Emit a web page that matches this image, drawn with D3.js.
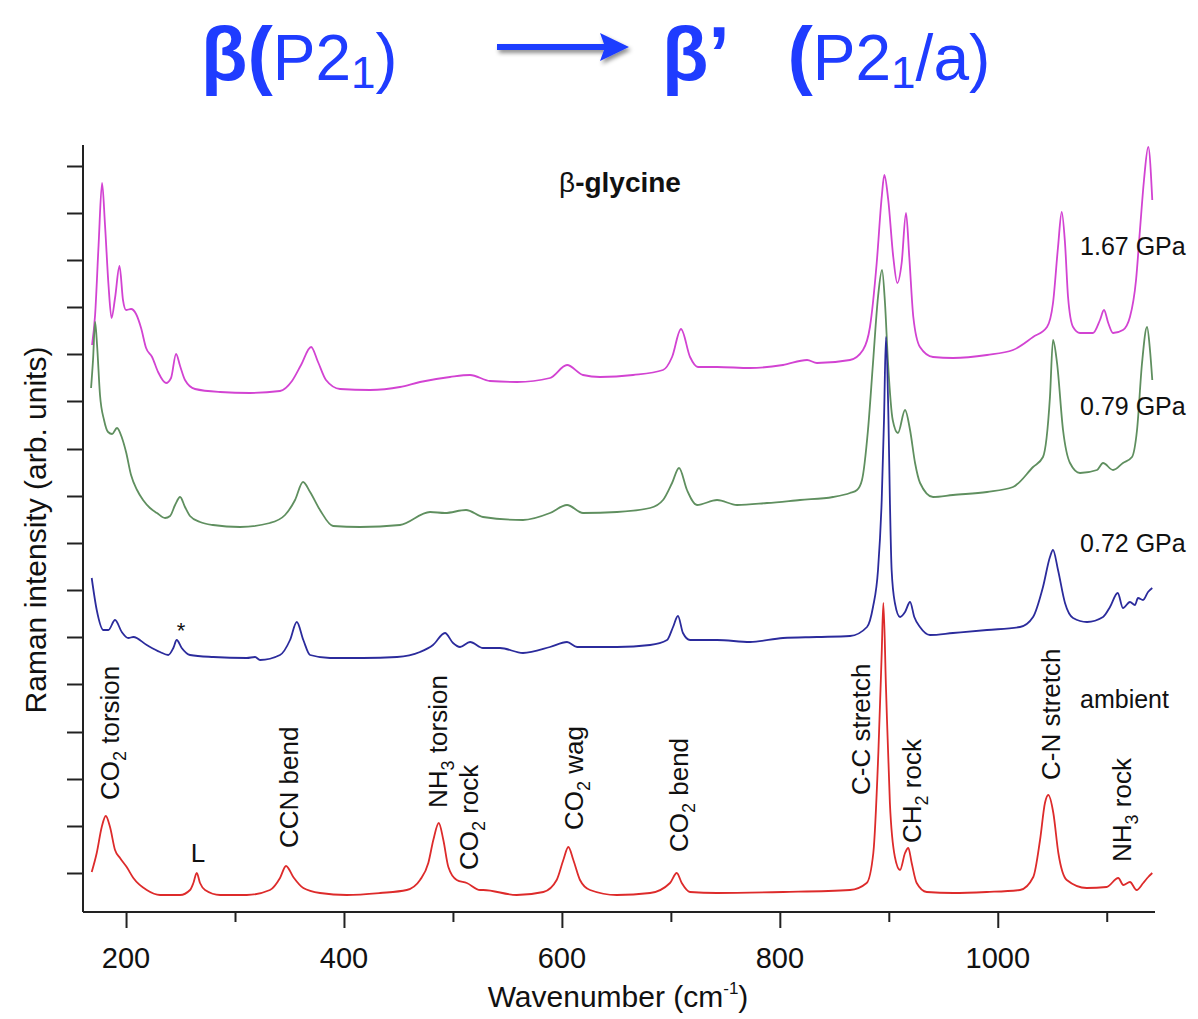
<!DOCTYPE html>
<html>
<head>
<meta charset="utf-8">
<script src="https://cdn.jsdelivr.net/npm/d3@7/dist/d3.min.js"></script>
<style>
  html, body { margin: 0; padding: 0; background: #fff; }
  svg { display: block; }
  text { font-family: "Liberation Sans", Arial, Helvetica, sans-serif; }
</style>
</head>
<body>
<svg id="chart" width="1198" height="1019"></svg>
<script>
// ---------------- DATA (wavenumber cm-1, intensity arb. units) ----------------
const spec167GPa = [
  [168.8,567],[171.6,597],[174.8,667],[178.0,729],[180.7,687],[183.9,627],[186.7,594],[189.9,614],
  [194.0,646],[197.2,612],[200.0,602],[204.6,603],[209.2,598],[213.8,584],[218.4,564],[223.9,555],
  [229.4,540],[236.7,529],[241.3,534],[245.9,558],[249.6,546],[254.1,532],[263.3,523],[286.3,520],
  [313.8,519],[341.3,521],[352.3,531],[360.6,547],[369.8,565],[376.2,550],[383.5,532],[396.4,523],
  [423.9,522],[451.4,525],[469.8,530],[497.3,535],[515.7,537],[534.0,531],[558.8,530],[589.1,534],
  [604.7,547],[619.4,537],[635.0,535],[665.3,537],[692.8,542],[701.1,555],[709.3,583],[717.6,555],
  [724.9,545],[742.4,545],[772.7,544],[802.9,547],[825.0,552],[834.1,549],[864.4,552],[876.3,562],
  [882.7,585],[888.9,649],[893.5,715],[895.9,737],[899.5,712],[904.1,655],[907.8,629],[911.8,649],
  [915.8,699],[918.8,655],[922.5,595],[928.6,565],[940.6,555],[958.9,554],[990.1,557],[1014.0,562],
  [1032.4,575],[1045.2,585],[1050.7,609],[1055.3,665],[1058.7,700],[1061.7,669],[1064.5,615],
  [1069.1,585],[1075.5,579],[1087.4,579],[1093.8,592],[1097.5,602],[1101.4,589],[1105.8,579],
  [1114.9,582],[1121.3,595],[1126.9,632],[1130.5,682],[1134.2,732],[1138.1,765],[1141.8,712]
];
const spec079GPa = [
  [167.9,524],[169.7,552],[171.6,590],[173.4,567],[176.1,517],[179.8,492],[183.5,480],[187.2,478],
  [191.7,484],[196.3,474],[200.0,460],[204.6,437],[210.1,422],[215.6,412],[222.0,404],[228.4,399],
  [235.8,394],[240.4,396],[245.0,407],[249.6,415],[254.1,405],[258.7,396],[267.9,390],[279.8,387],
  [304.6,385],[332.1,389],[345.9,397],[355.1,412],[362.4,430],[368.9,420],[378.0,402],[390.0,386],
  [414.7,385],[451.4,387],[479.0,400],[492.7,399],[512.0,402],[527.6,395],[564.3,392],[589.1,399],
  [604.7,407],[619.4,399],[650.6,400],[680.9,404],[692.8,412],[701.1,429],[707.5,444],[714.8,422],
  [724.0,407],[742.4,412],[760.7,407],[788.2,409],[818.5,412],[848.8,415],[864.4,419],[870.8,422],
  [875.4,432],[880.9,482],[885.5,549],[890.1,615],[893.8,642],[896.5,609],[899.3,549],[903.6,492],
  [908.4,479],[914.9,502],[919.5,482],[924.1,449],[928.7,429],[940.6,415],[958.9,417],[990.1,420],
  [1014.0,425],[1032.4,445],[1041.5,455],[1047.9,515],[1050.7,572],[1054.4,549],[1059.9,482],
  [1066.3,449],[1075.5,439],[1091.1,442],[1096.6,449],[1105.8,442],[1114.9,449],[1123.2,455],
  [1127.8,482],[1132.4,549],[1137.0,585],[1139.7,562],[1141.8,532]
];
const spec072GPa = [
  [168.5,334],[173.1,302],[179.2,282],[183.8,282],[189.9,292],[196.1,280],[202.1,274],[206.7,275],
  [219.0,267],[231.2,260],[238.8,257],[243.4,264],[246.5,272],[251.1,264],[258.7,257],[280.1,255],
  [310.8,254],[318.4,255],[323.0,252],[341.3,257],[350.5,272],[356.7,290],[362.7,272],[368.9,257],
  [387.2,254],[417.5,254],[448.7,255],[469.8,260],[481.7,267],[492.7,279],[500.1,269],[506.5,265],
  [515.7,270],[527.6,264],[543.2,264],[564.3,259],[589.1,265],[604.7,270],[613.9,265],[650.6,265],
  [680.9,267],[696.5,272],[702.0,285],[706.5,296],[711.1,279],[717.6,272],[742.4,272],[772.7,270],
  [802.9,274],[834.1,275],[864.4,276],[880.0,285],[885.5,305],[890.1,342],[893.5,412],[895.6,492],
  [897.4,575],[899.7,492],[901.0,412],[902.6,342],[905.6,309],[910.3,295],[914.9,300],[919.5,310],
  [923.4,295],[928.6,285],[937.8,277],[958.9,279],[990.1,282],[1020.4,285],[1032.4,295],[1041.5,325],
  [1047.9,355],[1050.7,362],[1055.3,342],[1061.7,309],[1069.1,294],[1081.9,290],[1096.6,295],
  [1103.0,305],[1110.1,319],[1114.9,304],[1121.3,310],[1125.9,307],[1128.7,314],[1133.3,312],
  [1137.9,320],[1141.8,324]
];
const specAmbient = [
  [168.5,40],[173.1,59],[177.7,85],[181.4,96],[185.3,85],[189.9,62],[194.5,54],[200.6,45],[206.7,34],
  [219.0,22],[231.2,17],[249.6,17],[258.7,22],[261.8,29],[264.9,39],[267.9,29],[272.5,22],[286.3,17],
  [310.8,17],[332.1,22],[341.3,34],[346.8,46],[353.5,35],[362.7,24],[378.0,19],[402.5,17],[433.1,19],
  [457.6,22],[469.8,32],[477.4,49],[482.0,72],[487.0,89],[491.2,72],[495.8,45],[503.5,32],[512.7,29],
  [524.9,22],[527.9,22],[558.5,17],[583.0,20],[595.2,32],[601.3,52],[605.9,65],[610.5,52],[616.6,32],
  [625.8,22],[650.3,17],[680.9,19],[699.2,29],[705.4,39],[710.0,29],[717.6,20],[742.1,19],[803.2,20],
  [864.4,22],[879.7,29],[885.8,59],[890.4,159],[893.5,259],[895.0,309],[897.4,225],[901.0,109],
  [905.6,55],[910.3,42],[914.9,59],[917.9,64],[921.0,49],[925.6,29],[934.8,20],[959.2,19],[989.8,20],
  [1020.4,22],[1032.6,35],[1038.8,72],[1043.3,109],[1046.4,117],[1051.0,99],[1055.6,59],[1063.3,32],
  [1081.6,24],[1099.9,25],[1110.6,34],[1115.2,27],[1121.3,30],[1127.4,22],[1133.5,29],[1138.1,35],
  [1141.8,39]
];
const seriesNames = ["1.67 GPa", "0.79 GPa", "0.72 GPa", "ambient"];
const seriesLabelY = [657, 497, 360, 204];     // intensity level of each series label
const xTickValues = [200, 300, 400, 500, 600, 700, 800, 900, 1000, 1100];
const xTickLabels = ["200", "400", "600", "800", "1000"];
const yTickValues = [39, 86, 133, 180, 228, 275, 322, 369, 416, 463, 511, 558, 605, 652, 699, 746];
// peak assignment labels: [main, subscript, rest, wavenumber, intensity]
const peakLabels = [
  ["CO", "2", " torsion", 193.6, 112],
  ["CCN bend", "", "", 357.8, 64],
  ["NH", "3", " torsion", 494.6, 104],
  ["CO", "2", " rock", 523.0, 42],
  ["CO", "2", " wag", 619.4, 82],
  ["CO", "2", " bend", 715.7, 60],
  ["C-C stretch", "", "", 882.7, 117],
  ["CH", "2", " rock", 929.6, 69],
  ["C-N stretch", "", "", 1057.1, 132],
  ["NH", "3", " rock", 1122.3, 50]
];

// ---------------- DRAWING ----------------
const svg = d3.select("#chart");
const colors = ["#d243d2", "#5f8f5f", "#2b2b9c", "#dd2b2b"];
const spectra = [spec167GPa, spec079GPa, spec072GPa, specAmbient];

const x = d3.scaleLinear().domain([160.5, 1144.3]).range([83, 1155]);
const y = d3.scaleLinear().domain([0, 767]).range([912, 145]);

// Title
const title = svg.append("g").attr("fill", "#1f3cff").style("font-family", "Lato, 'Open Sans', sans-serif");
const t1 = title.append("text").attr("x", 201).attr("y", 80);
t1.append("tspan").attr("font-size", 76).attr("font-weight", 700).text("β(");
t1.append("tspan").attr("font-size", 64).text("P2");
t1.append("tspan").attr("font-size", 44).attr("dy", 8).text("1");
t1.append("tspan").attr("font-size", 66).attr("dy", -8).text(")");
const t2 = title.append("text").attr("x", 662).attr("y", 80);
t2.append("tspan").attr("font-size", 76).attr("font-weight", 700).text("β’");
t2.append("tspan").attr("font-size", 76).attr("font-weight", 700).attr("dx", 58).text("(");
t2.append("tspan").attr("font-size", 64).text("P2");
t2.append("tspan").attr("font-size", 44).attr("dy", 8).text("1");
t2.append("tspan").attr("font-size", 64).attr("dy", -8).text("/a)");
const defs = svg.append("defs");
const f = defs.append("filter").attr("id", "sh").attr("x", "-10%").attr("y", "-50%").attr("width", "130%").attr("height", "200%");
f.append("feDropShadow").attr("dx", 2).attr("dy", 3).attr("stdDeviation", 2).attr("flood-color", "#000").attr("flood-opacity", 0.45);
title.append("path").attr("filter", "url(#sh)")
  .attr("d", "M497,44 L604,44 L600,33 L629,47 L600,61 L604,50 L497,50 Z");

// Axes
const xAxis = d3.axisBottom(x).tickValues(xTickValues)
  .tickSize(0).tickFormat(() => "");
const gx = svg.append("g").attr("transform", "translate(0,912)").call(xAxis);
gx.select(".domain").attr("stroke", "#222").attr("stroke-width", 2).attr("d", "M83,0H1155");
gx.selectAll(".tick line").attr("stroke", "#222").attr("stroke-width", 2)
  .attr("y2", d => (d % 200 === 0 ? 16 : 10));
svg.append("g").selectAll("text").data(xTickLabels).join("text")
  .attr("x", d => x(+d)).attr("y", 968).attr("text-anchor", "middle")
  .attr("font-size", 29).attr("fill", "#111").text(d => d);

const yAxis = d3.axisLeft(y).tickValues(yTickValues).tickSize(16).tickFormat(() => "");
const gy = svg.append("g").attr("transform", "translate(83,0)").call(yAxis);
gy.select(".domain").attr("stroke", "#222").attr("stroke-width", 2).attr("d", "M0,145V912");
gy.selectAll(".tick line").attr("stroke", "#222").attr("stroke-width", 2);

// Axis titles
const xt = svg.append("text").attr("x", 618).attr("y", 1007).attr("text-anchor", "middle")
  .attr("font-size", 30).attr("fill", "#111");
xt.append("tspan").text("Wavenumber (cm");
xt.append("tspan").attr("font-size", 17).attr("dy", -13).text("-1");
xt.append("tspan").attr("dy", 13).text(")");
svg.append("text").attr("transform", "translate(46,530) rotate(-90)").attr("text-anchor", "middle")
  .attr("font-size", 30).attr("fill", "#111").text("Raman intensity (arb. units)");

// Spectra
const line = d3.line().x(d => x(d[0])).y(d => y(d[1])).curve(d3.curveMonotoneX);
svg.append("g").selectAll("path").data(spectra).join("path")
  .attr("d", line).attr("fill", "none")
  .attr("stroke", (d, i) => colors[i]).attr("stroke-width", 1.8).attr("stroke-linejoin", "round");

// Series labels
svg.append("g").selectAll("text").data(seriesNames).join("text")
  .attr("x", x(1075.5)).attr("y", (d, i) => y(seriesLabelY[i]))
  .attr("font-size", 25).attr("fill", "#111").text(d => d);

// Compound name
const gl = svg.append("text").attr("x", x(653.3)).attr("y", y(720)).attr("text-anchor", "middle")
  .attr("font-size", 28).attr("fill", "#111");
gl.append("tspan").text("β");
gl.append("tspan").attr("font-weight", 700).text("-glycine");

// Peak labels
const pl = svg.append("g").selectAll("text").data(peakLabels).join("text")
  .attr("transform", d => `translate(${x(d[3])},${y(d[4])}) rotate(-90)`)
  .attr("font-size", 26).attr("fill", "#111");
pl.append("tspan").text(d => d[0]);
pl.append("tspan").attr("font-size", 18).attr("dy", d => d[1] ? 7 : 0).text(d => d[1]);
pl.append("tspan").attr("dy", d => d[1] ? -7 : 0).text(d => d[2]);

svg.append("text").attr("x", x(266.1)).attr("y", y(50)).attr("text-anchor", "middle")
  .attr("font-size", 26).attr("fill", "#111").text("L");
svg.append("text").attr("x", x(250.5)).attr("y", y(274)).attr("text-anchor", "middle")
  .attr("font-size", 22).attr("fill", "#111").text("*");
</script>
</body>
</html>
